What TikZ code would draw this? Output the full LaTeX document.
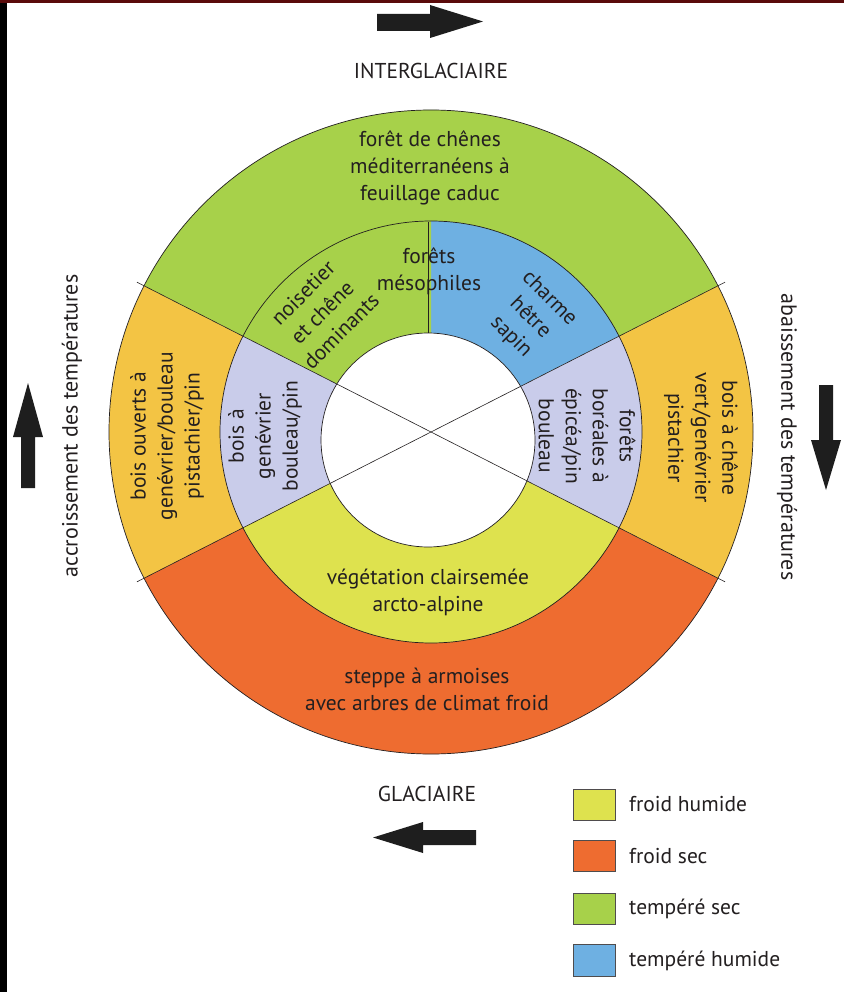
\documentclass[tikz,border=0pt]{standalone}
\usepackage{fontspec}
\setmainfont{PT Sans}
\usetikzlibrary{calc}
\definecolor{txt}{HTML}{231F20}
\definecolor{tgreen}{HTML}{A7D14A}
\definecolor{tblue}{HTML}{6EB0E2}
\definecolor{lav}{HTML}{C9CCEA}
\definecolor{gold}{HTML}{F3C444}
\definecolor{fsec}{HTML}{EE6C30}
\definecolor{fhum}{HTML}{DEE24E}
\definecolor{darkred}{HTML}{5A0A0A}
\definecolor{arr}{HTML}{1E1E1E}
\begin{document}
\begin{tikzpicture}[x=1pt,y=1pt,
  lab/.style={font=\fontsize{21.5}{27}\selectfont, text=txt, align=center, inner sep=0pt},
  leglab/.style={font=\fontsize{21.5}{25}\selectfont, text=txt, anchor=west, inner sep=0pt},
  sidelab/.style={font=\fontsize{22}{27}\selectfont, text=txt, inner sep=0pt},
  legbox/.style={draw=txt!80, line width=0.6pt},
  edge/.style={draw=txt, line width=0.7pt},
  blockarrow/.style={fill=arr}]
\useasboundingbox (0,0) rectangle (844,-992);
\fill[white] (0,0) rectangle (844,-992);
\fill[black] (0,0) rectangle (7,-992);
\fill[darkred] (0,0) rectangle (844,-3);
\coordinate (C) at (431,-432);
\coordinate (H) at (428,-440);
% outer ring sectors
\fill[tgreen] (C) -- ++(27:322) arc[start angle=27,end angle=153,radius=322] -- cycle;
\fill[gold] (C) -- ++(153:322) arc[start angle=153,end angle=207,radius=322] -- cycle;
\fill[fsec] (C) -- ++(207:322) arc[start angle=207,end angle=333,radius=322] -- cycle;
\fill[gold] (C) -- ++(-27:322) arc[start angle=-27,end angle=27,radius=322] -- cycle;
% middle ring sectors
\fill[tblue] (C) -- ++(27:211) arc[start angle=27,end angle=90,radius=211] -- cycle;
\fill[tgreen] (C) -- ++(90:211) arc[start angle=90,end angle=153,radius=211] -- cycle;
\fill[lav] (C) -- ++(153:211) arc[start angle=153,end angle=207,radius=211] -- cycle;
\fill[fhum] (C) -- ++(207:211) arc[start angle=207,end angle=333,radius=211] -- cycle;
\fill[lav] (C) -- ++(-27:211) arc[start angle=-27,end angle=27,radius=211] -- cycle;
% hole
\fill[white] (H) circle[radius=107];
% outlines
\draw[edge] (C) circle[radius=322];
\draw[edge] (C) circle[radius=211];
\draw[edge] (H) circle[radius=107];
\coordinate (L1a) at ($(C)+(153:330)$);
\coordinate (L1b) at ($(C)+(333:330)$);
\coordinate (L2a) at ($(C)+(27:330)$);
\coordinate (L2b) at ($(C)+(207:330)$);
\draw[edge, line width=0.6pt] (L1a) -- (L1b);
\draw[edge, line width=0.6pt] (L2a) -- (L2b);
\coordinate (Vt) at (428,-222);
\coordinate (Vb) at (428,-333);
\draw[edge] (Vt) -- (Vb);
% ring labels
\node[lab] (tl) at (430,-168) {forêt de chênes\\méditerranéens à\\feuillage caduc};
\node[lab] (fm) at (429,-271) {forêts\\mésophiles};
\node[lab,rotate=45] (nc) at (322,-312) {noisetier\\et chêne\\dominants};
\node[lab,rotate=-45] (ch) at (530,-318) {charme\\hêtre\\sapin};
\node[lab,rotate=90] (bo) at (167,-436) {bois ouverts à\\genévrier/bouleau\\pistachier/pin};
\node[lab,rotate=90] (bg) at (265,-436) {bois à\\genévrier\\bouleau/pin};
\node[lab,rotate=-90] (fb) at (587,-436) {forêts\\boréales à\\épicéa/pin\\bouleau};
\node[lab,rotate=-90] (bc) at (701,-438) {bois à chêne\\vert/genévrier\\pistachier};
\node[lab] (vc) at (428,-592) {végétation clairsemée\\arcto-alpine};
\node[lab] (st) at (427,-689) {steppe à armoises\\avec arbres de climat froid};
% outer labels
\node[lab] (ig) at (431,-71) {INTERGLACIAIRE};
\node[lab] (gl) at (427,-794) {GLACIAIRE};
\node[sidelab,rotate=90] (acc) at (72,-426) {accroissement des températures};
\node[sidelab,rotate=-90] (aba) at (787,-437) {abaissement des températures};
% arrows
\fill[blockarrow] (377,-14) -- (430,-14) -- (430,-5) -- (483,-21.5) -- (430,-38) -- (430,-31) -- (377,-31) -- cycle;
\fill[blockarrow] (476,-830) -- (423,-830) -- (423,-822) -- (373,-837.5) -- (423,-853) -- (423,-845) -- (476,-845) -- cycle;
\fill[blockarrow] (21,-488) -- (21,-437) -- (13,-437) -- (28,-383) -- (43,-437) -- (35,-437) -- (35,-488) -- cycle;
\fill[blockarrow] (819,-385) -- (819,-440) -- (811,-440) -- (826,-490) -- (841,-440) -- (833,-440) -- (833,-385) -- cycle;
% legend
\draw[legbox, fill=fhum] (573,-789) rectangle (615,-820);
\draw[legbox, fill=fsec] (573,-840) rectangle (615,-871);
\draw[legbox, fill=tgreen] (573,-893) rectangle (615,-924);
\draw[legbox, fill=tblue] (573,-944) rectangle (615,-976);
\node[leglab] (k1) at (629,-804) {froid humide};
\node[leglab] (k2) at (629,-856) {froid sec};
\node[leglab] (k3) at (629,-909) {tempéré sec};
\node[leglab] (k4) at (629,-961) {tempéré humide};
\end{tikzpicture}
\end{document}
